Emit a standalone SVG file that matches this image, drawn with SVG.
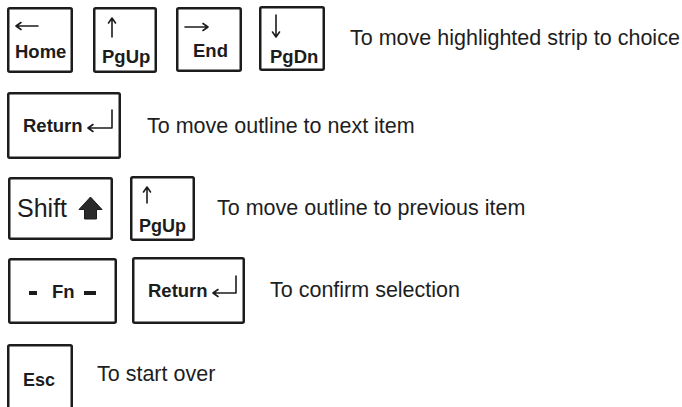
<svg xmlns="http://www.w3.org/2000/svg" width="682" height="407" viewBox="0 0 682 407">
  <defs>
    <style>
      .key { fill: #ffffff; stroke: #1c1c1c; stroke-width: 2.5; }
      .lbl { font-family: "Liberation Sans", Arial, sans-serif; font-weight: bold; font-size: 18.5px; fill: #1c1c1c; }
      .lbl-reg { font-family: "Liberation Sans", Arial, sans-serif; font-size: 25px; fill: #1c1c1c; }
      .desc { font-family: "Liberation Sans", Arial, sans-serif; font-size: 21.5px; fill: #1e1e1e; }
      .arr { fill: none; stroke: #1c1c1c; stroke-width: 1.6; stroke-linecap: round; stroke-linejoin: round; }
    </style>
  </defs>
  <rect width="682" height="407" fill="#ffffff"/>

  <!-- cursor keys -->
  <g id="key-home">
    <rect class="key" x="8.25" y="8.25" width="63.5" height="63.5" rx="1.5"/>
    <path class="arr" d="M16 26 H38 M16 26 l5 -3.5 M16 26 l5 3.5"/>
    <text class="lbl" x="15" y="58">Home</text>
  </g>
  <g id="key-pgup">
    <rect class="key" x="94.25" y="8.25" width="61.5" height="63.5" rx="1.5"/>
    <path class="arr" d="M112 18 V37 M112 18 l-3.5 5 M112 18 l3.5 5"/>
    <text class="lbl" x="102" y="63">PgUp</text>
  </g>
  <g id="key-end">
    <rect class="key" x="177.25" y="8.25" width="63.5" height="62.5" rx="1.5"/>
    <path class="arr" d="M185 27 H208 M208 27 l-5 -3.5 M208 27 l-5 3.5"/>
    <text class="lbl" x="193" y="57">End</text>
  </g>
  <g id="key-pgdn">
    <rect class="key" x="260.25" y="7.25" width="63.5" height="62.5" rx="1.5"/>
    <path class="arr" d="M276 15 V37 M276 37 l-3.5 -5 M276 37 l3.5 -5"/>
    <text class="lbl" x="270" y="63">PgDn</text>
  </g>
  <g id="desc-choice">
    <text class="desc" x="350" y="45">To move highlighted strip to choice</text>
  </g>

  <!-- next item -->
  <g id="key-return">
    <rect class="key" x="8.25" y="93.25" width="111.5" height="64.5" rx="1.5"/>
    <text class="lbl" x="23" y="132">Return</text>
    <path class="arr" d="M112 110 V128 H88 M88 128 l5 -3.5 M88 128 l5 3.5"/>
  </g>
  <g id="desc-next">
    <text class="desc" x="147" y="133">To move outline to next item</text>
  </g>

  <!-- previous item -->
  <g id="key-shift">
    <rect class="key" x="9.25" y="178.25" width="102.5" height="60.5" rx="1.5"/>
    <text class="lbl-reg" x="17" y="217">Shift</text>
    <path d="M90.5 197 L102 209.5 H96.5 V219 H84.5 V209.5 H79 Z" fill="#2a2a2a" stroke="#1c1c1c" stroke-width="1" stroke-linejoin="round"/>
  </g>
  <g id="key-pgup-2">
    <rect class="key" x="131.25" y="177.25" width="62.5" height="62.5" rx="1.5"/>
    <path class="arr" d="M147 187 V203 M147 187 l-3.5 5 M147 187 l3.5 5"/>
    <text class="lbl" x="139" y="232" style="font-size:18px">PgUp</text>
  </g>
  <g id="desc-previous">
    <text class="desc" x="217" y="215">To move outline to previous item</text>
  </g>

  <!-- confirm -->
  <g id="key-fn">
    <rect class="key" x="9.25" y="259.25" width="106.5" height="63.5" rx="1.5"/>
    <rect x="29" y="291" width="8" height="4" fill="#1c1c1c"/>
    <text class="lbl" x="52" y="298">Fn</text>
    <rect x="84" y="291" width="12" height="4" fill="#1c1c1c"/>
  </g>
  <g id="key-return-2">
    <rect class="key" x="133.25" y="258.25" width="110.5" height="64.5" rx="1.5"/>
    <text class="lbl" x="148" y="297">Return</text>
    <path class="arr" d="M236 276 V293 H213 M213 293 l5 -3.5 M213 293 l5 3.5"/>
  </g>
  <g id="desc-confirm">
    <text class="desc" x="270" y="297">To confirm selection</text>
  </g>

  <!-- start over -->
  <g id="key-esc">
    <rect class="key" x="8.25" y="345.25" width="63.5" height="70" rx="1.5"/>
    <text class="lbl" x="23" y="386" style="font-size:18px">Esc</text>
  </g>
  <g id="desc-start">
    <text class="desc" x="97" y="381">To start over</text>
  </g>
</svg>
